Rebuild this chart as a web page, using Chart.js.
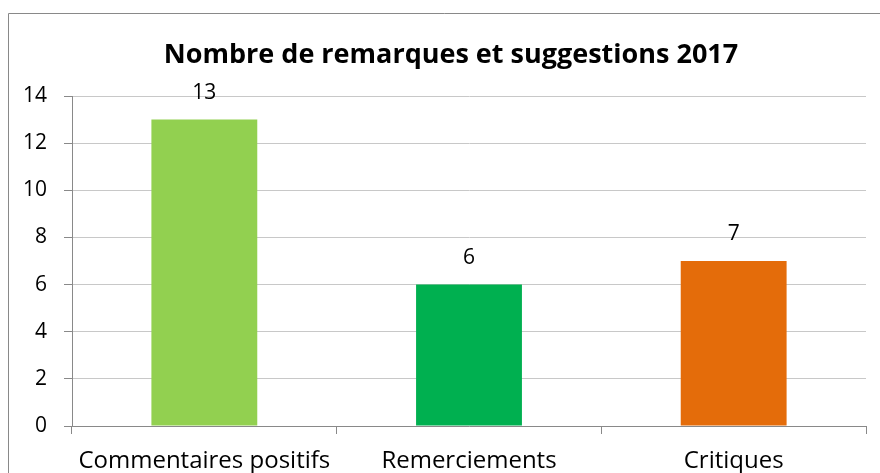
<!DOCTYPE html>
<html>
<head>
<meta charset="utf-8">
<script src="https://cdn.jsdelivr.net/npm/chart.js@4/dist/chart.umd.min.js"></script>
<style>
  html, body { margin: 0; padding: 0; background: #fff; }
  canvas { display: block; }
</style>
</head>
<body>
<canvas id="chart" width="880" height="473"></canvas>
<script>
const categories = ["Commentaires positifs", "Remerciements", "Critiques"];
const counts = [13, 6, 7];
const barColors = ["#92d050", "#00b050", "#e46c0a"];
const yTicks = [0, 2, 4, 6, 8, 10, 12, 14];

const FONT = "'Open Sans'";

// frame around the chart (left + top edges are visible)
const framePlugin = {
  id: "frame",
  afterLayout(chart) {
    // centre the title a little left of the plot, as in the original
    chart.titleBlock.left = 36;
    chart.titleBlock.right = 866;
  },
  beforeDraw(chart) {
    const ctx = chart.ctx;
    ctx.save();
    ctx.strokeStyle = "#898989";
    ctx.lineWidth = 1;
    ctx.beginPath();
    ctx.moveTo(8.5, 480);
    ctx.lineTo(8.5, 13.5);
    ctx.lineTo(890, 13.5);
    ctx.stroke();
    ctx.restore();
  },
};

// value labels above each bar
const valueLabels = {
  id: "valueLabels",
  afterDatasetsDraw(chart) {
    const ctx = chart.ctx;
    const meta = chart.getDatasetMeta(0);
    ctx.save();
    ctx.font = "21px " + FONT;
    ctx.fillStyle = "#000";
    ctx.textAlign = "center";
    ctx.textBaseline = "middle";
    meta.data.forEach((bar, i) => {
      ctx.fillText(String(counts[i]), bar.x, bar.y - 27);
    });
    ctx.restore();
  },
};

new Chart(document.getElementById("chart"), {
  type: "bar",
  data: {
    labels: categories,
    datasets: [
      {
        data: counts,
        backgroundColor: barColors,
        barPercentage: 0.4,
        categoryPercentage: 1,
      },
    ],
  },
  options: {
    responsive: false,
    animation: false,
    layout: { padding: { left: 0, right: 14, top: 0, bottom: 0 } },
    plugins: {
      legend: { display: false },
      tooltip: { enabled: false },
      title: {
        display: true,
        text: "Nombre de remarques et suggestions 2017",
        color: "#000",
        font: { family: FONT, size: 27, weight: "bold", lineHeight: 1.2 },
        padding: { top: 39, bottom: 24.6 },
      },
    },
    scales: {
      x: {
        afterFit(scale) { scale.height = 47; },
        border: { color: "#898989" },
        grid: {
          offset: true,
          drawOnChartArea: false,
          tickLength: 8,
          tickColor: "#898989",
        },
        ticks: {
          color: "#000",
          font: { family: FONT, size: 24 },
          padding: 13,
          maxRotation: 0,
        },
      },
      y: {
        min: 0,
        max: 14,
        afterFit(scale) { scale.width = 72; },
        afterBuildTicks(scale) { scale.ticks = yTicks.map((v) => ({ value: v })); },
        border: { color: "#898989" },
        grid: {
          color: "#c8c8c8",
          tickLength: 8,
          tickColor: "#898989",
        },
        ticks: {
          color: "#000",
          font: { family: FONT, size: 21 },
          padding: 17,
        },
      },
    },
  },
  plugins: [framePlugin, valueLabels],
});
</script>
</body>
</html>
